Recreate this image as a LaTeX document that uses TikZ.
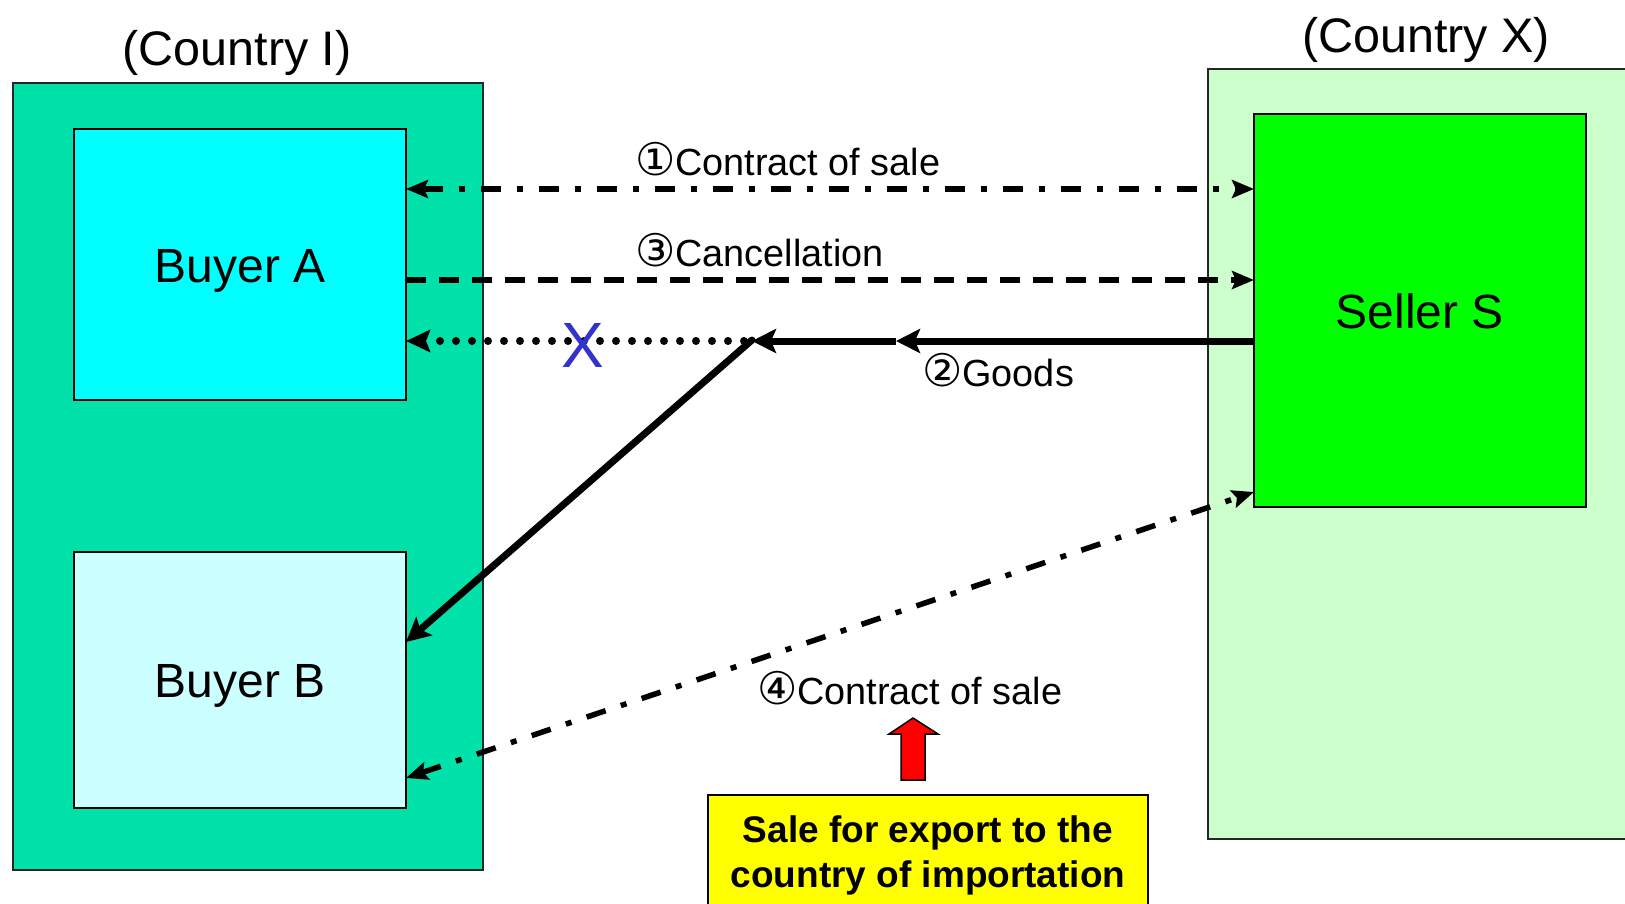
\documentclass[tikz,border=0pt]{standalone}
\usepackage{fontspec}
\setmainfont{Liberation Sans}
\newfontfamily\circfont{DejaVu Sans}
\usetikzlibrary{arrows.meta}
\definecolor{cIfill}{RGB}{0,226,170}
\definecolor{buyAfill}{RGB}{0,255,255}
\definecolor{buyBfill}{RGB}{204,255,255}
\definecolor{cXfill}{RGB}{204,255,204}
\definecolor{sellfill}{RGB}{0,255,0}
\definecolor{xblue}{RGB}{51,51,204}
\definecolor{yelfill}{RGB}{255,255,0}
\definecolor{redfill}{RGB}{255,0,0}
\newcommand{\circd}[1]{{\circfont\fontsize{45}{45}\selectfont #1}}
\tikzset{
  thinhead/.tip={Stealth[length=22pt,width=18pt,inset=4pt]},
  goodshead/.tip={Stealth[length=24pt,width=24pt,inset=5pt]},
  dothead/.tip={Stealth[length=24pt,width=22pt,inset=4pt]}
}
\begin{document}
\begin{tikzpicture}[x=1pt,y=-1pt,
  region/.style={draw=black!85, line width=2.5pt, anchor=north west, outer sep=0pt, inner sep=0pt},
  party/.style={draw=black, line width=2pt, anchor=north west, outer sep=0pt, inner sep=0pt,
     font=\fontsize{48}{57}\selectfont, text height=35pt, text depth=0pt},
  lbl/.style={font=\fontsize{37.8}{45}\selectfont, anchor=base west, inner sep=0pt},
  ctry/.style={font=\fontsize{48.5}{58}\selectfont, anchor=base, inner sep=0pt},
  dashdot/.style={line width=5.5pt, dash pattern=on 20pt off 16pt on 6pt off 16pt},
  dashedln/.style={line width=5.5pt, dash pattern=on 20pt off 13pt},
  dottedln/.style={line width=8pt, line cap=round, dash pattern=on 0pt off 16pt},
  goodsln/.style={line width=7pt},
  boldtxt/.style={font=\bfseries\fontsize{37}{44}\selectfont, anchor=base, inner sep=0pt}
]
\useasboundingbox (0,0) rectangle (1625,903);

% regions
\node[region, fill=cIfill, minimum width=470pt, minimum height=787pt] (CI) at (13,83) {};
\node[region, fill=cXfill, minimum width=432pt, minimum height=770pt] (CX) at (1208,69) {};
\node[ctry] (CIl) at (237,65) {(Country I)};
\node[ctry] (CXl) at (1426,52) {(Country X)};

% parties
\node[party, fill=buyAfill, minimum width=332pt, minimum height=271pt] (A) at (74,129) {Buyer A};
\node[party, fill=buyBfill, minimum width=332pt, minimum height=256pt] (B) at (74,552) {Buyer B};
\node[party, fill=sellfill, minimum width=332pt, minimum height=393pt] (S) at (1254,114) {Seller S};

% helper coordinates
\coordinate (y1) at (0,189);
\coordinate (y3) at (0,280);
\coordinate (yg) at (0,341);
\coordinate (yd) at (0,642);
\coordinate (y4a) at (0,778);
\coordinate (y4b) at (0,492);
\coordinate (M) at (896,341);
\coordinate (J) at (752,341);
\coordinate (Jd) at (744,341);

% (1) contract of sale
\draw[dashdot, {thinhead}-{thinhead}] (A.east |- y1) -- (S.west |- y1);
\node[lbl] (L1) at (635,175) {\circd{①}Contract of sale};

% (3) cancellation
\draw[dashedln, -{thinhead}] (A.east |- y3) -- (S.west |- y3);
\node[lbl] (L3) at (635,266) {\circd{③}Cancellation};

% (2) goods
\draw[goodsln, -{goodshead}] (S.west |- yg) -- (M);
\draw[goodsln, -{goodshead}] (M) -- (J);
\draw[dottedln, -{dothead}] (Jd) -- (A.east |- yg);
\draw[goodsln, line cap=round, -{goodshead}] ([yshift=1pt]J) -- (B.east |- yd);
\node[lbl] (L2) at (922,386) {\circd{②}Goods};
\node[font=\fontsize{64}{64}\selectfont, text=xblue, anchor=base, inner sep=0pt] (X) at (583,367) {X};

% (4) contract of sale
\draw[dashdot, {thinhead}-{thinhead}] (B.east |- y4a) -- (S.west |- y4b);
\node[lbl] (L4) at (757,704) {\circd{④}Contract of sale};

% highlight
\draw[fill=redfill, draw=black, line width=1.5pt, line join=miter]
  (901,780) -- (901,734) -- (889,734) -- (913,718) -- (938,734) -- (925,734) -- (925,780) -- cycle;
\node[draw=black, line width=2pt, fill=yelfill, anchor=north west, outer sep=0pt,
      minimum width=440pt, minimum height=140pt] (Y) at (708,795) {};
\node[boldtxt] (Y1) at (928,842) {Sale for export to the};
\node[boldtxt] (Y2) at (928,887) {country of importation};
\end{tikzpicture}
\end{document}
